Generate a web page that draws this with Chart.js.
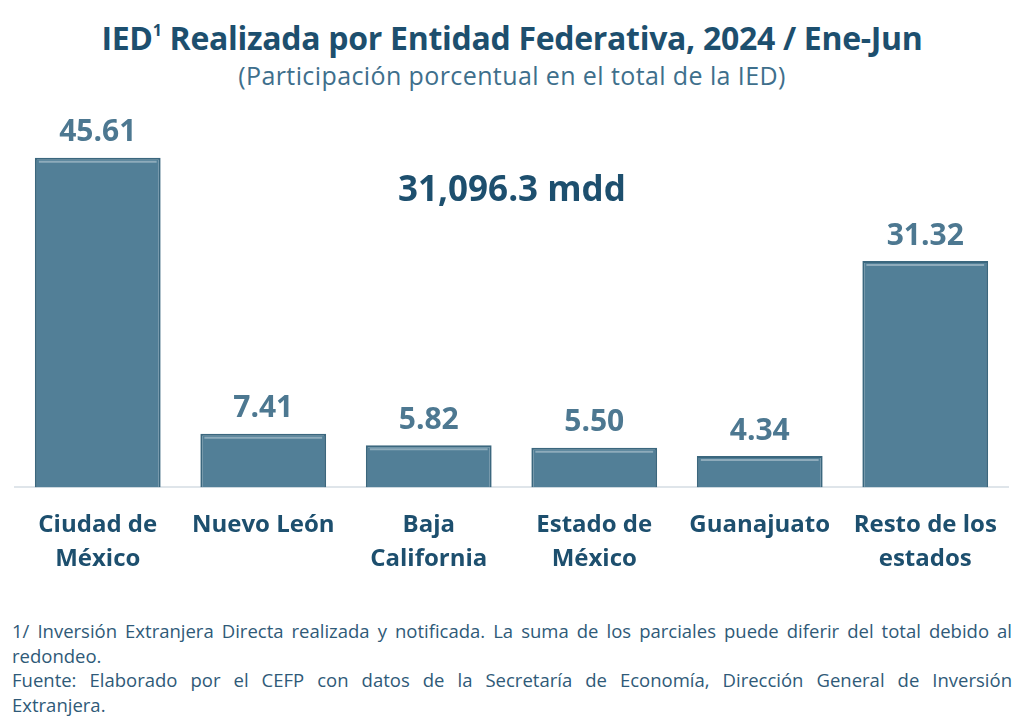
<!DOCTYPE html>
<html>
<head>
<meta charset="utf-8">
<script src="https://cdn.jsdelivr.net/npm/chart.js@4"></script>
<style>
  html, body { margin: 0; padding: 0; background: #fff; }
  body { width: 1024px; height: 723px; position: relative; overflow: hidden; font-family: "Open Sans", sans-serif; }
  #title { position: absolute; top: 16px; left: 0; width: 1024px; text-align: center; font-weight: 700; font-size: 32px; color: #1d4f6e; letter-spacing: -0.3px; }
  #title sup { font-size: 16px; vertical-align: 14px; }
  #subtitle { position: absolute; top: 58px; left: 0; width: 1024px; text-align: center; font-size: 25px; color: #3e6f8c; letter-spacing: 0.4px; }
  #total { position: absolute; top: 164px; left: 0; width: 1024px; text-align: center; font-weight: 700; font-size: 35px; color: #1d4f6e; }
  #chartBox { position: absolute; top: 100px; left: 0; width: 1024px; height: 489px; }
  #notes { position: absolute; top: 619px; left: 12px; width: 1000px; font-size: 18.5px; line-height: 24.5px; color: #2f5a78; }
  #notes .j { text-align: justify; text-align-last: justify; }
</style>
</head>
<body>
<div id="title">IED<sup>1</sup> Realizada por Entidad Federativa, 2024 / Ene-Jun</div>
<div id="subtitle">(Participación porcentual en el total de la IED)</div>
<div id="chartBox"><canvas id="myChart"></canvas></div>
<div id="total">31,096.3 mdd</div>
<div id="notes">
  <div class="j">1/ Inversión Extranjera Directa realizada y notificada. La suma de los parciales puede diferir del total debido al</div>
  <div>redondeo.</div>
  <div class="j">Fuente: Elaborado por el CEFP con datos de la Secretaría de Economía, Dirección General de Inversión</div>
  <div>Extranjera.</div>
</div>
<script>
const estados = [
    ['Ciudad de', 'México'],
    'Nuevo León',
    ['Baja', 'California'],
    ['Estado de', 'México'],
    'Guanajuato',
    ['Resto de los', 'estados']
];
const participacion = [45.61, 7.41, 5.82, 5.50, 4.34, 31.32];
const yTicks = [0, 50];

// value labels above each bar, plus a light bevel line on top
const valueLabels = {
    id: 'valueLabels',
    afterDatasetsDraw(chart) {
        const c = chart.ctx;
        const meta = chart.getDatasetMeta(0);
        c.save();
        meta.data.forEach((bar) => {
            const half = bar.width / 2;
            c.strokeStyle = 'rgba(255,255,255,0.35)';
            c.lineWidth = 2;
            c.beginPath();
            c.moveTo(bar.x - half + 4, bar.y + 4);
            c.lineTo(bar.x + half - 4, bar.y + 4);
            c.stroke();
        });
        c.font = 'bold 30px "Open Sans", sans-serif';
        c.fillStyle = '#4d7891';
        c.textAlign = 'center';
        c.textBaseline = 'bottom';
        meta.data.forEach((bar, i) => {
            c.fillText(participacion[i].toFixed(2), bar.x, bar.y - 10);
        });
        c.restore();
    }
};

const ctx = document.getElementById('myChart');

new Chart(ctx, {
    type: 'bar',
    data: {
        labels: estados,
        datasets: [{
            data: participacion,
            backgroundColor: '#527f97',
            borderColor: '#3b677e',
            borderWidth: 2,
            categoryPercentage: 0.76,
            barPercentage: 1
        }]
    },
    plugins: [valueLabels],
    options: {
        responsive: true,
        maintainAspectRatio: false,
        animation: false,
        layout: { padding: { left: 15, right: 16, top: 26, bottom: 0 } },
        plugins: {
            legend: { display: false },
            tooltip: { enabled: false }
        },
        scales: {
            x: {
                grid: { display: false },
                border: { display: true, color: '#dfe5ea', width: 2 },
                ticks: {
                    color: '#1d4f6e',
                    font: { family: '"Open Sans", sans-serif', size: 24, weight: 'bold', lineHeight: 1.45 },
                    padding: 12,
                    maxRotation: 0,
                    autoSkip: false
                }
            },
            y: {
                display: false,
                min: yTicks[0],
                max: yTicks[1]
            }
        }
    }
});
</script>
</body>
</html>
